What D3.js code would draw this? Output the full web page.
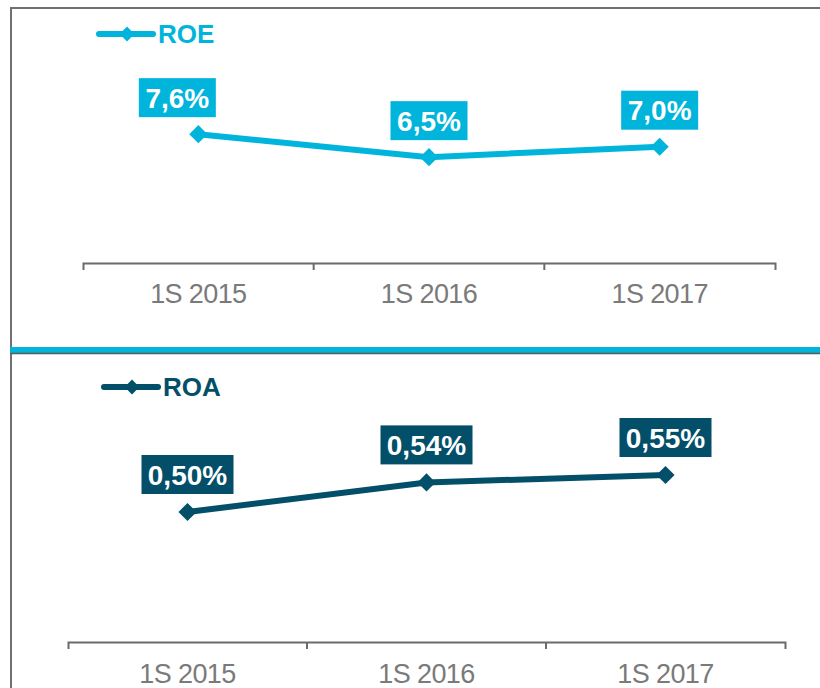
<!DOCTYPE html>
<html><head><meta charset="utf-8">
<script src="https://cdn.jsdelivr.net/npm/d3@7"></script>
<style>body{margin:0;background:#fff}svg{display:block}text{font-family:Arial,"Liberation Sans",sans-serif}</style>
</head><body><svg id="c" width="820" height="688"></svg>
<script>
const categories = ["1S 2015", "1S 2016", "1S 2017"];
const roeValues = [7.6, 6.5, 7.0];
const roeLabels = ["7,6%", "6,5%", "7,0%"];
const roaValues = [0.50, 0.54, 0.55];
const roaLabels = ["0,50%", "0,54%", "0,55%"];

const ROE_COLOR = "#00b4dc", ROA_COLOR = "#034f69", AXIS = "#6b6b6b", TXT = "#7a7a7a";
const svg = d3.select("#c");

// frame
svg.append("path").attr("d","M11,688 V8 H822").attr("fill","none").attr("stroke","#707070").attr("stroke-width",2);
svg.append("rect").attr("x",10).attr("y",347).attr("width",812).attr("height",6).attr("fill",ROE_COLOR);
svg.append("line").attr("x1",10).attr("x2",822).attr("y1",353.5).attr("y2",353.5).attr("stroke","#5a5a5a").attr("stroke-width",1.5);

function panel(cfg){
  const x = d3.scaleBand().domain(categories).range(cfg.xr).padding(0);
  const y = d3.scaleLinear().domain(cfg.yd).range(cfg.yr);
  const g = svg.append("g");
  // axis
  const ax = g.append("g").attr("transform",`translate(0,${cfg.axisY})`)
    .call(d3.axisBottom(x).tickSizeInner(0).tickSizeOuter(7).tickPadding(0));
  ax.select(".domain").attr("stroke",AXIS).attr("stroke-width",2);
  ax.selectAll(".tick text").attr("fill",TXT).attr("font-size",27).attr("dy",null).attr("y",cfg.labelDy).attr("letter-spacing","-0.6");
  ax.selectAll(".tick line").remove();
  categories.slice(1).forEach(c=>{
    ax.append("line").attr("x1",x(c)).attr("x2",x(c)).attr("y1",0).attr("y2",7).attr("stroke",AXIS).attr("stroke-width",2);
  });
  const cx = c => x(c)+x.bandwidth()/2;
  // line
  g.append("path").datum(cfg.values)
    .attr("d",d3.line().x((d,i)=>cx(categories[i])).y(d=>y(d)))
    .attr("fill","none").attr("stroke",cfg.color).attr("stroke-width",6).attr("stroke-linejoin","round");
  // markers
  g.selectAll(".mk").data(cfg.values).join("path")
    .attr("d",d3.symbol(d3.symbolDiamond2,210)())
    .attr("transform",(d,i)=>`translate(${cx(categories[i])},${y(d)})`)
    .attr("fill",cfg.color);
  // labels
  cfg.values.forEach((v,i)=>{
    const px = cx(categories[i]) + cfg.labelDx[i];
    const py = y(v) - cfg.gap;
    const w = cfg.boxW, h = 39;
    g.append("rect").attr("x",px-w/2).attr("y",py-h).attr("width",w).attr("height",h).attr("fill",cfg.color);
    g.append("text").attr("x",px).attr("y",py-h/2+10).attr("text-anchor","middle")
      .attr("fill","#fff").attr("font-weight","bold").attr("font-size",28).text(cfg.labels[i]);
  });
  // legend
  const L = cfg.legend;
  g.append("line").attr("x1",L.x).attr("x2",L.x+54).attr("y1",L.y).attr("y2",L.y)
    .attr("stroke",cfg.color).attr("stroke-width",6).attr("stroke-linecap","round");
  g.append("path").attr("d",d3.symbol(d3.symbolDiamond2,140)()).attr("transform",`translate(${L.x+28},${L.y})`).attr("fill",cfg.color);
  g.append("text").attr("x",L.x+59).attr("y",L.y+9).attr("fill",cfg.color).attr("font-weight","bold").attr("font-size",26).text(cfg.name);
}

panel({name:"ROE", values:roeValues, labels:roeLabels, color:ROE_COLOR,
  xr:[83,775], yd:[0,10], yr:[293,84], axisY:263, labelDy:40,
  labelDx:[-21,0,0], gap:17, boxW:77, legend:{x:99,y:34}});
panel({name:"ROA", values:roaValues, labels:roaLabels, color:ROA_COLOR,
  xr:[68,785], yd:[0.3,0.7], yr:[660,364], axisY:642, labelDy:41,
  labelDx:[0,0,0], gap:18, boxW:92, legend:{x:104,y:387}});
</script></body></html>
